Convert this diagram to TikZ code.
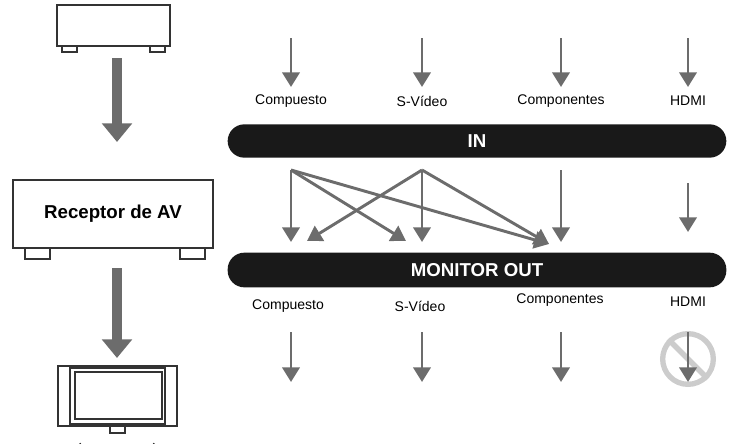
\documentclass[tikz,border=0pt]{standalone}
\usepackage{fontspec}
\setmainfont{Liberation Sans}
\usetikzlibrary{arrows.meta}
\begin{document}
\begin{tikzpicture}[x=0.75pt,y=-0.75pt,
  ar/.style={draw=gray!85!black,line width=2.2pt,-{Triangle[length=11pt,width=13pt]}},
  big/.style={draw=gray!85!black,line width=7pt,-{Triangle[length=14pt,width=22pt]}},
  bar/.style={fill=black!90,rounded corners=12.5pt,draw=none},
  dev/.style={draw=black!80,line width=1pt,fill=white},
  lab/.style={font=\fontsize{10.5}{13}\selectfont}]
\useasboundingbox (0,0) rectangle (735,443);
% source device
\draw[dev] (62,46) rectangle (77,52); \draw[dev] (150,46) rectangle (165,52);
\draw[dev] (57,5) rectangle (170,46);
\coordinate (s1) at (117,58); \coordinate (e1) at (117,142);
\draw[big] (s1) -- (e1);
% receiver
\draw[dev] (25,248) rectangle (50,259); \draw[dev] (180,248) rectangle (205,259);
\node[dev,minimum width=150,minimum height=51,inner sep=0,font=\bfseries\fontsize{14}{17}\selectfont] (rx) at (113,214) {Receptor de AV};
\coordinate (s2) at (117,268); \coordinate (e2) at (117,358);
\draw[big] (s2) -- (e2);
% TV
\draw[dev] (58,366) rectangle (177,426);
\draw[dev] (70,368) rectangle (165,424);
\draw[dev,line width=1.4pt] (75,372) rectangle (162,419);
\draw[dev] (110,426) rectangle (125,433);
\draw[dev] (80,443) arc[start angle=180,end angle=0,x radius=37,y radius=9];
% bars
\node[bar,minimum width=374,minimum height=25,inner sep=0,text=white,font=\bfseries\fontsize{14}{17}\selectfont] (in) at (477,141) {IN};
\node[bar,minimum width=374,minimum height=26,inner sep=0,text=white,font=\bfseries\fontsize{14}{17}\selectfont] (mo) at (477,270) {MONITOR OUT};
% top arrows and labels
\foreach \x/\t [count=\i] in {291/Compuesto,422/S-Vídeo,561/Componentes,688/HDMI}{
  \coordinate (ta\i) at (\x,38); \coordinate (tb\i) at (\x,87);
  \draw[ar] (ta\i) -- (tb\i);
  \node[lab] (tl\i) at (\x,101) {\t};
}
% crossing
\coordinate (c1) at (291,170); \coordinate (c2) at (422,170); \coordinate (c3) at (561,170);
\coordinate (d1) at (291,242); \coordinate (d1b) at (307,241); \coordinate (d2a) at (406,241);
\coordinate (d2) at (422,242); \coordinate (d3a) at (549,244); \coordinate (d3) at (561,242);
\draw[ar] (c1) -- (d1); \draw[ar] (c1) -- (d2a); \draw[ar] (c1) -- (d3a);
\draw[ar] (c2) -- (d1b); \draw[ar] (c2) -- (d2); \draw[ar] (c2) -- (d3a);
\draw[ar] (c3) -- (d3);
\coordinate (h1) at (688,183); \coordinate (h2) at (688,232);
\draw[ar] (h1) -- (h2);
% bottom labels and arrows
\foreach \x/\t/\y [count=\i] in {288/Compuesto/306,420/S-Vídeo/306,560/Componentes/300,688/HDMI/302}{
  \node[lab] (bl\i) at (\x,\y) {\t};
}
\foreach \x [count=\i] in {291,422,561}{
  \coordinate (ba\i) at (\x,332); \coordinate (bb\i) at (\x,382);
  \draw[ar] (ba\i) -- (bb\i);
}
\node[circle,draw=gray!40,line width=4pt,minimum size=38,inner sep=0] (no) at (688,359) {};
\draw[gray!40,line width=4pt] (no.135) -- (no.-45);
\coordinate (ba4) at (688,332); \coordinate (bb4) at (688,382);
\draw[ar] (ba4) -- (bb4);
\end{tikzpicture}
\end{document}
